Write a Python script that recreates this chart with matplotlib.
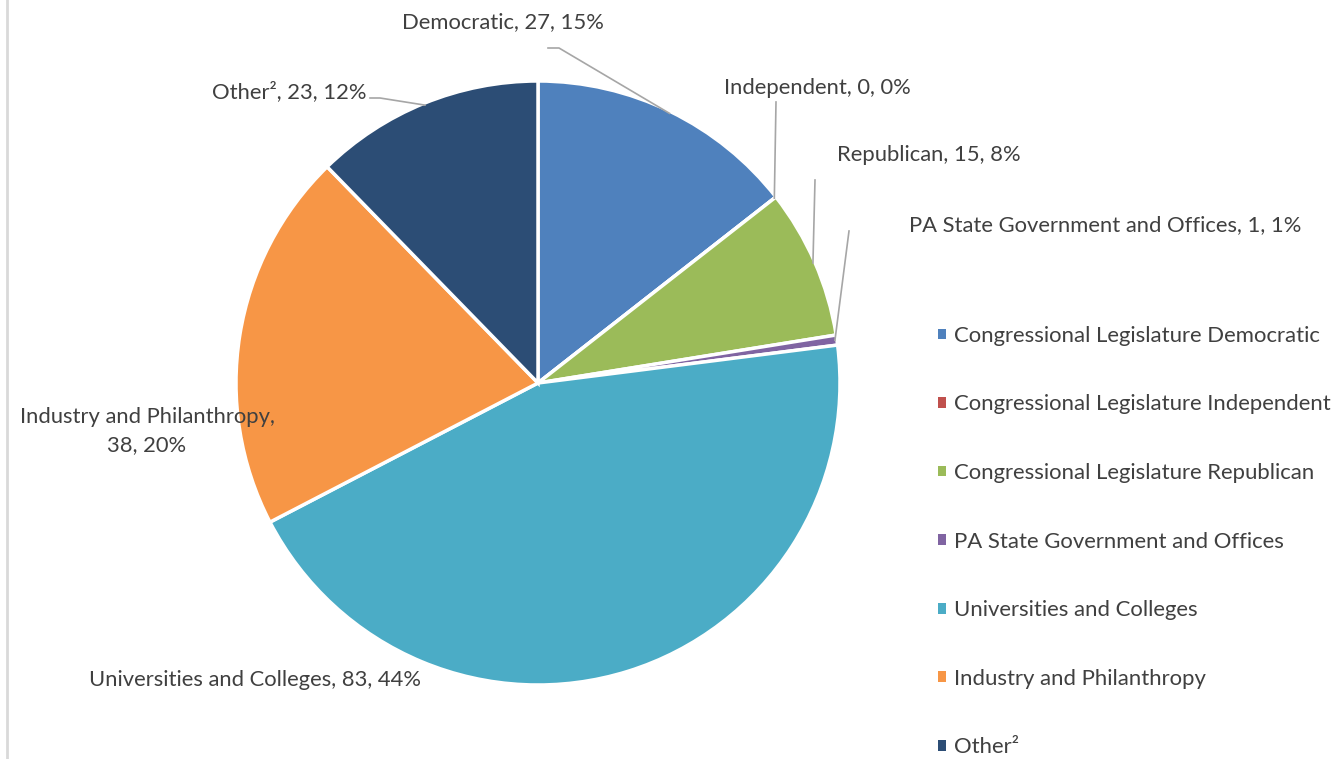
import numpy as np
import matplotlib
matplotlib.use("Agg")
import matplotlib.pyplot as plt
from matplotlib.patches import Patch

plt.rcParams["font.family"] = ["Lato", "DejaVu Sans"]

# data
categories = [
    "Congressional Legislature Democratic",
    "Congressional Legislature Independent",
    "Congressional Legislature Republican",
    "PA State Government and Offices",
    "Universities and Colleges",
    "Industry and Philanthropy",
    "Other²",
]
short_names = ["Democratic", "Independent", "Republican",
               "PA State Government and Offices", "Universities and Colleges",
               "Industry and Philanthropy", "Other²"]
values = [27, 0, 15, 1, 83, 38, 23]
percents = [15, 0, 8, 1, 44, 20, 12]
colors = ["#4F81BD", "#C0504D", "#9BBB59", "#8064A2", "#4BACC6", "#F79646", "#2C4D75"]

W, H = 1341, 759
TXT = "#404040"
LINE = "#A6A6A6"


def Y(y):
    # image row -> axes y (y up)
    return H - y


fig = plt.figure(figsize=(W / 100, H / 100), dpi=100)
ax = fig.add_axes([0, 0, 1, 1])

cx, cy, r = 538, Y(383), 302
wedges, _ = ax.pie(values, colors=colors, startangle=90, counterclock=False,
                   center=(cx, cy), radius=r,
                   wedgeprops=dict(edgecolor="white", linewidth=2.5))
ax.set_xlim(0, W)
ax.set_ylim(0, H)
ax.set_aspect("equal")
ax.axis("off")

# left border of the chart area
ax.plot([7, 7], [0, H], color="#D9D9D9", lw=2, clip_on=False)

# data labels: (text center x, y in image), leader path start points
label_pos = [(503, 22), (817, 88), (929, 155), (1105, 225), (255, 680), (147, 431), (289, 92)]
leaders = {
    0: [(548, 48), (559, 48)],
    1: [(776, 102)],
    2: [(815, 180)],
    3: [(849, 231)],
    6: [(370, 98), (380, 98)],
}

for i, (w, name, v, p) in enumerate(zip(wedges, short_names, values, percents)):
    if i == 5:
        text = f"{name},\n{v}, {p}%"
    else:
        text = f"{name}, {v}, {p}%"
    tx, ty = label_pos[i]
    ax.text(tx, Y(ty), text, ha="center", va="center", fontsize=15.8,
            color=TXT, multialignment="center", linespacing=1.5)
    if i in leaders:
        mid = np.deg2rad((w.theta1 + w.theta2) / 2)
        ex, ey = cx + (r - 2) * np.cos(mid), cy + (r - 2) * np.sin(mid)
        pts = [(x, Y(y)) for x, y in leaders[i]] + [(ex, ey)]
        xs, ys = zip(*pts)
        ax.plot(xs, ys, color=LINE, lw=1.2)

handles = [Patch(facecolor=c, edgecolor="none") for c in colors]
leg = ax.legend(handles, categories, loc="upper left",
                bbox_to_anchor=(929 / W, Y(317) / H), frameon=False,
                fontsize=15.9, labelcolor=TXT, handlelength=0.37, handleheight=0.37,
                handletextpad=0.35, labelspacing=2.2, borderaxespad=0)

fig.savefig("out.png", dpi=100)
